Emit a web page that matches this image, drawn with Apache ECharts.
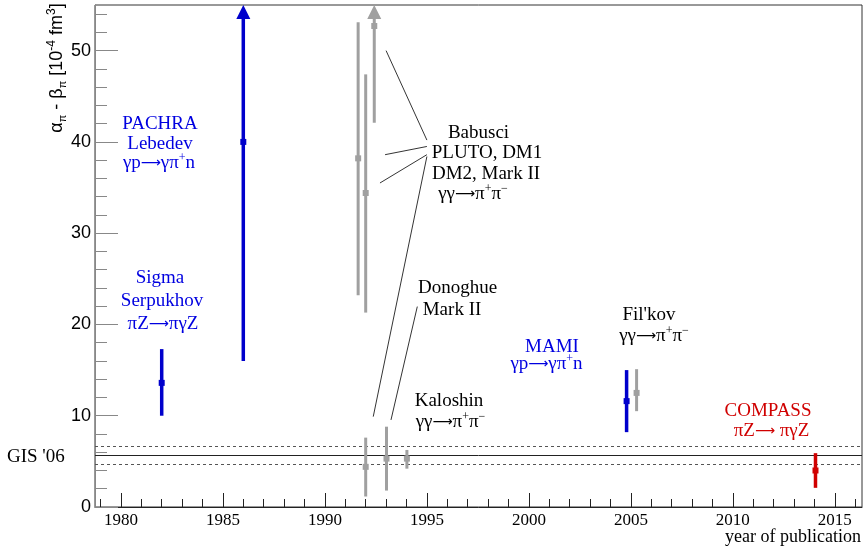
<!DOCTYPE html>
<html><head><meta charset="utf-8">
<script src="https://cdn.jsdelivr.net/npm/echarts@6/dist/echarts.min.js"></script>
<style>html,body{margin:0;padding:0;background:#fff}#c{width:863px;height:550px}</style>
</head><body><div id="c"></div>
<script>
// ---- axis ranges and ticks ----
const xMin = 1978.73, xMax = 2016.33;
const yMin = 0, yMax = 55;
const xMajorTicks = [1980, 1985, 1990, 1995, 2000, 2005, 2010, 2015];
const xMinorTicks = [1979, 1981, 1982, 1983, 1984, 1986, 1987, 1988, 1989, 1991, 1992, 1993, 1994,
  1996, 1997, 1998, 1999, 2001, 2002, 2003, 2004, 2006, 2007, 2008, 2009, 2011, 2012, 2013, 2014, 2016];
const yMajorTicks = [0, 10, 20, 30, 40, 50];
const yMinorTicks = [2, 4, 6, 8, 12, 14, 16, 18, 22, 24, 26, 28, 32, 34, 36, 38, 42, 44, 46, 48, 52, 54];

// ---- measurements ----
const experiments = ['Sigma Serpukhov', 'PACHRA Lebedev', 'PLUTO', 'DM1', 'DM2', 'Mark II',
  'Donoghue Mark II', 'Kaloshin', 'MAMI', "Fil'kov", 'COMPASS'];
const years  = [1982.0, 1986.0, 1991.63, 1992.0, 1992.42, 1992.0, 1993.02, 1994.02, 2004.79, 2005.28, 2014.05];
const values = [13.6, 40.0, 38.2, 34.4, 52.7, 4.4, 5.3, 5.3, 11.6, 12.5, 4.0];
const lows   = [10.0, 16.0, 23.2, 21.3, 42.1, 1.15, 1.8, 4.2, 8.2, 10.5, 2.1];
const highs  = [17.3, 64.0, 53.1, 47.4, 63.3, 7.6, 8.8, 6.25, 15.0, 15.1, 5.9];
const groups = ['blue', 'blue', 'grey', 'grey', 'grey', 'grey', 'grey', 'grey', 'blue', 'grey', 'red'];

// GIS '06 band
const gisValue = 5.7, gisError = 1.0;
const gisLines = [gisValue, gisValue + gisError, gisValue - gisError];
const gisLineKinds = ['solid', 'dotted', 'dotted'];

// annotation connector lines [x1, y1, x2, y2] in data units
const connectorLines = [
  [1993.0, 50.0, 1995.0, 40.2],
  [1992.95, 38.6, 1995.0, 39.5],
  [1992.7, 35.5, 1995.0, 38.6],
  [1995.0, 38.4, 1992.37, 9.9],
  [1994.53, 21.96, 1993.24, 9.54]
];

const colors = { blue: '#0000cc', grey: '#a0a0a0', red: '#d00000' };
const textColors = { blue: '#0000e0', black: '#000000', red: '#d00000' };
const SERIF = 'Liberation Serif';

function richFor(color, size) {
  return {
    n: { fontFamily: SERIF, fontSize: size, lineHeight: 22, fill: color, verticalAlign: 'middle' },
    sup: { fontFamily: SERIF, fontSize: 12, lineHeight: 16, fill: color, verticalAlign: 'top' },
    arr: { fontFamily: 'DejaVu Sans', fontSize: 14, lineHeight: 22, fill: color, verticalAlign: 'middle' }
  };
}
function label(x, y, str, colorKey, align) {
  const color = textColors[colorKey];
  return {
    type: 'text', silent: true, z: 100,
    x: x, y: y,
    style: {
      text: str, rich: richFor(color, 19), fill: color,
      font: '19px "' + SERIF + '"',
      align: align || 'center', verticalAlign: 'middle'
    }
  };
}
const ARR = '{arr|⟶}';
const GP = '{n|γp}' + ARR + '{n|γπ}{sup|+}{n|n}';
const GG = '{n|γγ}' + ARR + '{n|π}{sup|+}{n|π}{sup|−}';
const texts = [
  label(160, 124, '{n|PACHRA}', 'blue'),
  label(160, 144, '{n|Lebedev}', 'blue'),
  label(159, 163, GP, 'blue'),
  label(160, 278, '{n|Sigma}', 'blue'),
  label(162, 301, '{n|Serpukhov}', 'blue'),
  label(163, 324, '{n|πZ}' + ARR + '{n|πγZ}', 'blue'),
  label(552, 347, '{n|MAMI}', 'blue'),
  label(546.5, 364, GP, 'blue'),
  label(478.5, 133, '{n|Babusci}', 'black'),
  label(487, 153, '{n|PLUTO, DM1}', 'black'),
  label(486, 174, '{n|DM2, Mark II}', 'black'),
  label(473, 194, GG, 'black'),
  label(457.5, 288, '{n|Donoghue}', 'black'),
  label(452, 310, '{n|Mark II}', 'black'),
  label(449, 401, '{n|Kaloshin}', 'black'),
  label(450.5, 422, GG, 'black'),
  label(649, 315, "{n|Fil'kov}", 'black'),
  label(654, 336, GG, 'black'),
  label(768, 411, '{n|COMPASS}', 'red'),
  label(771.5, 431, '{n|πZ}' + ARR + '{n| πγZ}', 'red'),
  label(7, 457.5, "{n|GIS '06}", 'black', 'left'),
  {
    type: 'text', silent: true, z: 100, x: 861, y: 537,
    style: { text: 'year of publication', fill: '#000', font: '18px "' + SERIF + '"', align: 'right', verticalAlign: 'middle' }
  },
  {
    type: 'text', silent: true, z: 100, x: 57, y: 68, rotation: Math.PI / 2,
    style: {
      text: '{n|α}{sub|π}{n| - β}{sub|π}{n| [10}{sup|-4}{n| fm}{sup|3}{n|]}',
      fill: '#000', align: 'center', verticalAlign: 'middle',
      font: '18px "Liberation Sans"',
      rich: {
        n: { fontFamily: 'Liberation Sans', fontSize: 18, lineHeight: 22, fill: '#000', verticalAlign: 'middle' },
        sub: { fontFamily: 'Liberation Sans', fontSize: 11, lineHeight: 10, fill: '#000', verticalAlign: 'bottom' },
        sup: { fontFamily: 'Liberation Sans', fontSize: 12, lineHeight: 12, fill: '#000', verticalAlign: 'top' }
      }
    }
  }
];

const barData = years.map((x, i) => [x, values[i], lows[i], highs[i], i]);

const chart = echarts.init(document.getElementById('c'), null, { renderer: 'canvas' });
const axisCommon = { type: 'value', splitLine: { show: false } };
chart.setOption({
  animation: false,
  backgroundColor: '#fff',
  grid: {
    left: 95, right: 1, top: 5, bottom: 43, containLabel: false, outerBoundsMode: 'none',
    show: true, borderColor: '#333', borderWidth: 1, backgroundColor: 'transparent'
  },
  xAxis: [
    Object.assign({}, axisCommon, {
      min: xMin, max: xMax, position: 'bottom',
      axisLine: { show: true, lineStyle: { color: '#222', width: 1 } },
      axisTick: { show: true, inside: true, length: 14, customValues: xMajorTicks, lineStyle: { color: '#222' } },
      axisLabel: { show: true, customValues: xMajorTicks, fontFamily: SERIF, fontSize: 17, color: '#000', margin: 5,
        formatter: function (v) { return String(v); } }
    }),
    Object.assign({}, axisCommon, {
      min: xMin, max: xMax, position: 'bottom',
      axisLine: { show: false },
      axisTick: { show: true, inside: true, length: 8, customValues: xMinorTicks, lineStyle: { color: '#222' } },
      axisLabel: { show: false }
    })
  ],
  yAxis: [
    Object.assign({}, axisCommon, {
      min: yMin, max: yMax, position: 'left',
      axisLine: { show: true, lineStyle: { color: '#888', width: 1 } },
      axisTick: { show: true, inside: true, length: 23, customValues: yMajorTicks, lineStyle: { color: '#888' } },
      axisLabel: { show: true, customValues: yMajorTicks, fontFamily: 'Liberation Sans', fontSize: 18, color: '#000', margin: 4,
        formatter: function (v) { return String(v); } }
    }),
    Object.assign({}, axisCommon, {
      min: yMin, max: yMax, position: 'left',
      axisLine: { show: false },
      axisTick: { show: true, inside: true, length: 12, customValues: yMinorTicks, lineStyle: { color: '#888' } },
      axisLabel: { show: false }
    })
  ],
  graphic: texts,
  series: [
    {
      type: 'custom', silent: true, xAxisIndex: 0, yAxisIndex: 0,
      data: gisLines.map((v, i) => [v, i]),
      renderItem: function (params, api) {
        const v = api.value(0);
        const kind = gisLineKinds[api.value(1)];
        const pL = api.coord([xMin, v]);
        const pR = api.coord([xMax, v]);
        const y = Math.round(pL[1]) + 0.5;
        return {
          type: 'line',
          shape: { x1: pL[0], y1: y, x2: pR[0], y2: y },
          style: kind === 'solid'
            ? { stroke: '#222', lineWidth: 1 }
            : { stroke: '#555', lineWidth: 1, lineDash: [3, 3] }
        };
      }
    },
    {
      type: 'custom', silent: true, xAxisIndex: 0, yAxisIndex: 0,
      data: connectorLines,
      renderItem: function (params, api) {
        const p1 = api.coord([api.value(0), api.value(1)]);
        const p2 = api.coord([api.value(2), api.value(3)]);
        return { type: 'line', shape: { x1: p1[0], y1: p1[1], x2: p2[0], y2: p2[1] }, style: { stroke: '#000', lineWidth: 0.8 } };
      }
    },
    {
      type: 'custom', silent: true, xAxisIndex: 0, yAxisIndex: 0, z: 10,
      data: barData,
      renderItem: function (params, api) {
        const i = api.value(4);
        const g = groups[i];
        const c = colors[g];
        const x = api.value(0);
        const pc = api.coord([x, api.value(1)]);
        const pl = api.coord([x, api.value(2)]);
        const hiV = api.value(3);
        const arrow = hiV > yMax;
        const ph = api.coord([x, Math.min(hiV, yMax)]);
        const w = g === 'grey' ? 3 : 3.5;
        const children = [
          { type: 'line', shape: { x1: pc[0], y1: pl[1], x2: pc[0], y2: arrow ? ph[1] + 12 : ph[1] }, style: { stroke: c, lineWidth: w } },
          { type: 'rect', shape: { x: pc[0] - 3, y: pc[1] - 3, width: 6, height: 6 }, style: { fill: c } }
        ];
        if (arrow) {
          children.push({ type: 'polygon', shape: { points: [[pc[0], ph[1]], [pc[0] - 7, ph[1] + 14], [pc[0] + 7, ph[1] + 14]] }, style: { fill: c } });
        }
        return { type: 'group', children: children };
      }
    }
  ]
});
</script></body></html>
